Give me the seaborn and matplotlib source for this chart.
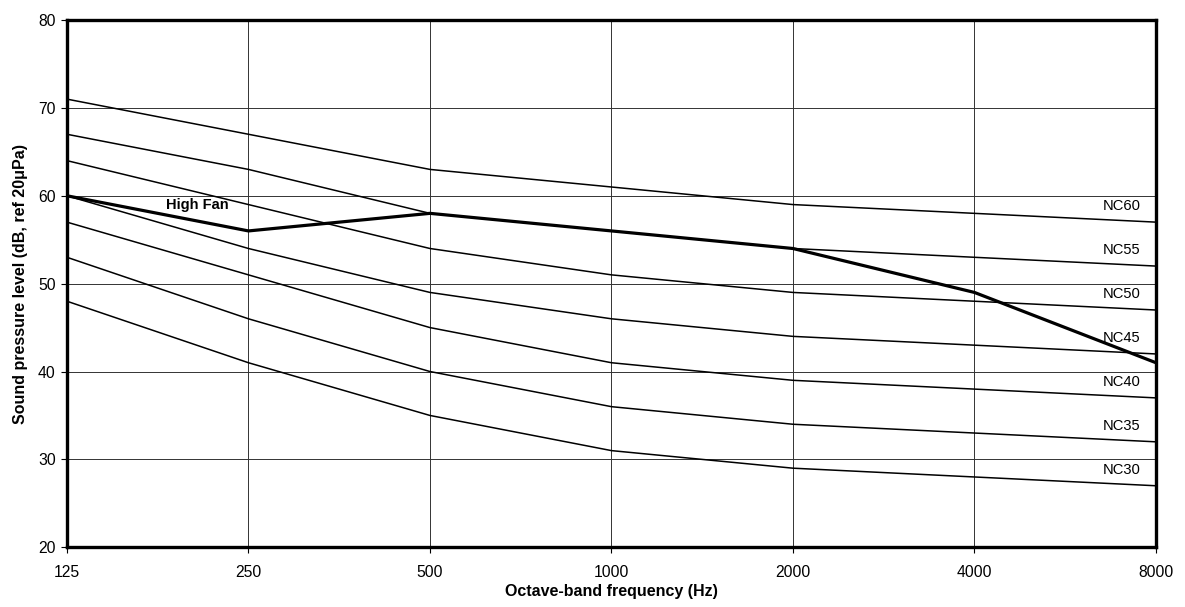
import matplotlib
matplotlib.use("Agg")
import matplotlib.pyplot as plt
import seaborn as sns
import pandas as pd
import numpy as np

# Octave-band centre frequencies (Hz)
frequencies = ["125", "250", "500", "1000", "2000", "4000", "8000"]

# Noise criterion curves (dB)
nc60 = [71, 67, 63, 61, 59, 58, 57]
nc55 = [67, 63, 58, 56, 54, 53, 52]
nc50 = [64, 59, 54, 51, 49, 48, 47]
nc45 = [60, 54, 49, 46, 44, 43, 42]
nc40 = [57, 51, 45, 41, 39, 38, 37]
nc35 = [53, 46, 40, 36, 34, 33, 32]
nc30 = [48, 41, 35, 31, 29, 28, 27]
nc_names = ["NC60", "NC55", "NC50", "NC45", "NC40", "NC35", "NC30"]

# Measured spectrum
high_fan = [60, 56, 58, 56, 54, 49, 41]

sns.set_theme(style="white")
plt.rcParams["font.family"] = ["Liberation Sans", "DejaVu Sans"]
plt.rcParams["text.color"] = "black"
plt.rcParams["axes.labelcolor"] = "black"
plt.rcParams["xtick.color"] = "black"
plt.rcParams["ytick.color"] = "black"

pos = np.arange(len(frequencies))
nc_curves = [nc60, nc55, nc50, nc45, nc40, nc35, nc30]
rows = []
for name, vals in zip(nc_names, nc_curves):
    for p, v in zip(pos, vals):
        rows.append({"pos": p, "level": v, "curve": name})
nc_df = pd.DataFrame(rows)
fan_df = pd.DataFrame({"pos": pos, "level": high_fan})

fig = plt.figure(figsize=(11.85, 6.07), dpi=100)
ax = fig.add_axes([0.0565, 0.0984, 0.919, 0.8686])

sns.lineplot(data=nc_df, x="pos", y="level", units="curve", estimator=None,
             color="black", linewidth=1.1, ax=ax, zorder=3)
sns.lineplot(data=fan_df, x="pos", y="level", color="black",
             linewidth=2.3, ax=ax, zorder=4)

ax.set_xlim(0, len(frequencies) - 1)
ax.set_ylim(20, 80)
ax.set_xticks(pos)
ax.set_xticklabels(frequencies)
ax.set_yticks(np.arange(20, 81, 10))

ax.grid(True, color="#333333", linewidth=0.7, zorder=1)
for s in ax.spines.values():
    s.set_color("black")
    s.set_linewidth(2.4)
    s.set_zorder(5)

ax.tick_params(axis="both", direction="out", length=4, width=0.8,
               color="black", labelsize=11.3, bottom=True, left=True)
ax.tick_params(axis="x", pad=9)
ax.tick_params(axis="y", pad=4)
ax.set_xlabel("Octave-band frequency (Hz)", fontsize=11.5, fontweight="bold", labelpad=3)
ax.set_ylabel("Sound pressure level (dB, ref 20\u03bcPa)", fontsize=11.5,
              fontweight="bold", labelpad=7)

# Curve labels at the right-hand end
last = len(frequencies) - 1
for name, vals in zip(nc_names, nc_curves):
    ax.annotate(name, xy=(last, vals[-1] + 1.8), xytext=(-11, 0),
                textcoords="offset points", ha="right", va="center",
                fontsize=10.6, zorder=6)

ax.text(0.72, 59.0, "High Fan", ha="center", va="center",
        fontsize=10.5, fontweight="bold", zorder=6)

fig.savefig("out.png", dpi=100, facecolor="white")
